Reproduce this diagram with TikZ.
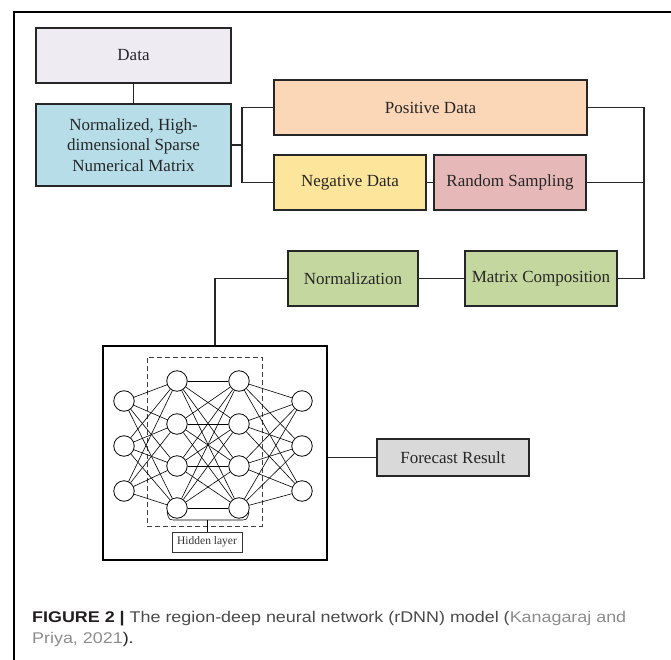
\documentclass[tikz,border=0pt]{standalone}
\usepackage{fontspec}
\usepackage{graphicx}
\setmainfont{Liberation Serif}
\newfontfamily\capfont{Liberation Sans}
\usetikzlibrary{calc}
\definecolor{cData}{HTML}{EEECF2}
\definecolor{cNorm}{HTML}{B7DEE8}
\definecolor{cPos}{HTML}{FBD6B7}
\definecolor{cNeg}{HTML}{FDE59B}
\definecolor{cRand}{HTML}{E6B9B8}
\definecolor{cGreen}{HTML}{C4D79E}
\definecolor{cFore}{HTML}{D9D9D9}
\definecolor{cEdge}{HTML}{262626}
\definecolor{capDark}{HTML}{231F20}
\definecolor{capMid}{HTML}{4A4A4A}
\definecolor{capLight}{HTML}{8C8C8C}
\newsavebox\caplineone
\newsavebox\caplinetwo
\newlength\caplinewidth
\tikzset{
  box/.style={draw=cEdge, line width=1.1pt, inner sep=0pt, align=center,
    font=\fontsize{17}{20.5}\selectfont, text=black!85},
  neuron/.style={circle, draw=black, line width=0.8pt, minimum size=20.5pt, inner sep=0pt},
  edge/.style={line width=0.6pt, black},
  wire/.style={line width=1.1pt, cEdge},
}
\begin{document}%
\sbox\caplineone{\capfont\fontsize{15.5}{18}\selectfont
  \textcolor{capDark}{\bfseries FIGURE 2 |} \textcolor{capMid}{The region-deep neural network (rDNN) model (}\textcolor{capLight}{Kanagaraj and}}%
\sbox\caplinetwo{\capfont\fontsize{15.5}{18}\selectfont
  \textcolor{capLight}{Priya, 2021}\textcolor{capDark}{).}}%
\setlength\caplinewidth{\wd\caplineone}%
\pgfmathsetmacro\capsx{594/\caplinewidth}%
\begin{tikzpicture}[x=1pt, y=-1pt]
\useasboundingbox (0,0) rectangle (671,660);
% outer frame (top and left rules)
\draw[line width=1.1pt, black] (14,660) -- (14,12) -- (671,12);

% flow boxes
\node[box, fill=cData, minimum width=195pt, minimum height=55pt] (data) at (133.5,55.5) {Data};
\node[box, fill=cNorm, minimum width=195pt, minimum height=82pt] (norm) at (133.5,145)
  {Normalized, High-\\dimensional Sparse\\Numerical Matrix};
\node[box, fill=cPos, minimum width=313pt, minimum height=55pt] (pos) at (430.5,107.5) {Positive Data};
\node[box, fill=cNeg, minimum width=152pt, minimum height=55pt] (neg) at (350,182.5) {Negative Data};
\node[box, fill=cRand, minimum width=152pt, minimum height=55pt] (rand) at (510,182.5) {Random Sampling};
\node[box, fill=cGreen, minimum width=130pt, minimum height=55pt] (nrmz) at (353,278.5) {Normalization};
\node[box, fill=cGreen, minimum width=152pt, minimum height=55pt] (mcomp) at (541,278.5) {Matrix Composition};
\node[box, fill=cFore, minimum width=152pt, minimum height=37pt] (fore) at (453,457.5) {Forecast Result};

% network frame
\node[draw=black, line width=1.1pt, minimum width=224pt, minimum height=214pt, inner sep=0pt] (nnbox) at (215,453) {};
\node[draw=black!75, line width=0.9pt, dash pattern=on 5pt off 3pt, minimum width=115pt, minimum height=169pt, inner sep=0pt] (hidframe) at (204.5,441.5) {};
\node[draw=black!80, line width=0.8pt, minimum width=70pt, minimum height=20pt, inner sep=0pt,
  font=\fontsize{11.5}{13}\selectfont, text=black!80] (hid) at (207,542) {Hidden layer};

% connectors
\coordinate (busL) at (242,145);
\coordinate (busR) at (644,278.5);
\draw[wire] (data) -- (norm);
\draw[wire] (norm.east) -- (busL);
\draw[wire] (pos.west) -| (busL) |- (neg.west);
\draw[wire] (neg) -- (rand);
\draw[wire] (pos.east) -| (busR) -- (mcomp.east);
\draw[wire] (rand.east) -- (rand.east -| busR);
\draw[wire] (mcomp) -- (nrmz);
\draw[wire] (nrmz.west) -| (nnbox.north);
\draw[wire] (fore.west) -- (fore.west -| nnbox.east);

% neurons
\foreach \i/\yy in {1/401,2/446,3/491} {
  \node[neuron] (a\i) at (124,\yy) {};
  \node[neuron] (d\i) at (302,\yy) {};
}
\foreach \i/\yy in {1/381,2/424,3/466,4/508} {
  \node[neuron] (b\i) at (177,\yy) {};
  \node[neuron] (c\i) at (239,\yy) {};
}
\foreach \i in {1,2,3} \foreach \j in {1,2,3,4} {
  \draw[edge] (a\i) -- (b\j);
  \draw[edge] (c\j) -- (d\i);
}
\foreach \i in {1,2,3,4} \foreach \j in {1,2,3,4} {
  \draw[edge] (b\i) -- (c\j);
}
% bracket under the hidden layers
\coordinate (brk) at (207,520);
\draw[edge] (167,512) .. controls (169,520) .. (176,520) -- (240,520) .. controls (247,520) .. (249,512);
\draw[line width=0.8pt] (brk) -- (hid.north);

% caption
\node[anchor=base west, inner sep=0pt] (cap1) at (32,622) {\scalebox{\capsx}[1]{\usebox\caplineone}};
\node[anchor=base west, inner sep=0pt] (cap2) at (32,643) {\scalebox{\capsx}[1]{\usebox\caplinetwo}};
\end{tikzpicture}
\end{document}
